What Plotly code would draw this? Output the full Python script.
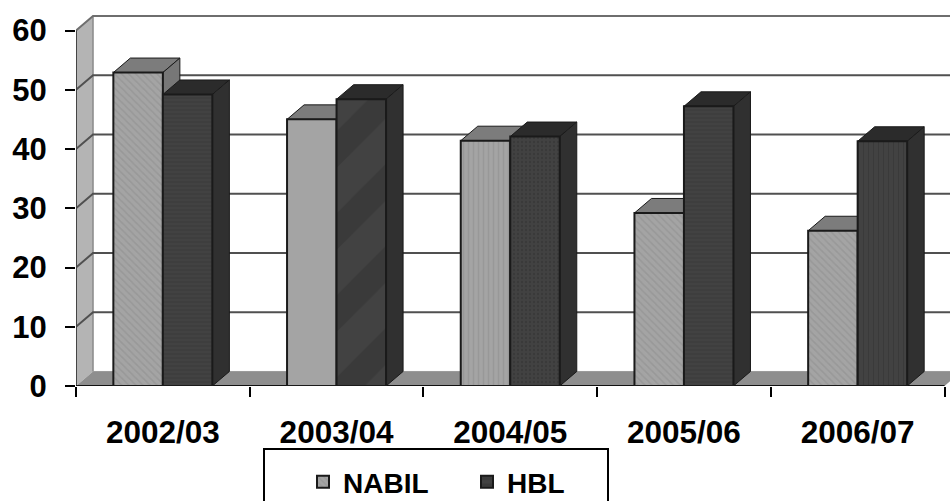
import plotly.graph_objects as go

categories = ["2002/03", "2003/04", "2004/05", "2005/06", "2006/07"]
nabil = [52.9, 45.0, 41.4, 29.2, 26.2]
hbl = [49.2, 48.4, 42.1, 47.2, 41.3]
y_ticks = [0, 10, 20, 30, 40, 50, 60]
nabil_patterns = ["\\", "", "|", "\\", "\\"]
hbl_patterns = ["-", "/", ".", "-", "|"]
hbl_pattern_sizes = [4, 58, 4, 4, 5]
hbl_pattern_solidity = [0.25, 0.45, 0.3, 0.25, 0.25]

FONT = "Liberation Sans"
DX, DY = 0.098, 2.45      # depth of the 3D projection in axis units
W = 0.285                 # bar width in category units
n = len(categories)
centers = [i + 0.5 for i in range(n)]

PLOT_L, PLOT_B, PLOT_R = 76, 386, 950
plot_w, plot_h = PLOT_R - PLOT_L, PLOT_B


def px(X):
    return (X - PLOT_L) / plot_w


def py(Y):
    return (PLOT_B - Y) / plot_h


shapes = []


def poly(pts, fill, line="rgba(0,0,0,0)", lw=0):
    path = "M" + "L".join(f"{x},{y}" for x, y in pts) + "Z"
    shapes.append(dict(type="path", path=path, xref="x", yref="y", layer="below",
                       fillcolor=fill, line=dict(color=line, width=lw)))


def seg(pts, color, lw):
    path = "M" + "L".join(f"{x},{y}" for x, y in pts)
    shapes.append(dict(type="path", path=path, xref="x", yref="y", layer="below",
                       line=dict(color=color, width=lw)))


top = max(y_ticks)
# side wall and floor
poly([(0, 0), (DX, DY), (DX, top + DY), (0, top)], "#b4b4b4")
poly([(0, 0), (n, 0), (n + DX, DY), (DX, DY)], "#8e8e8e")
seg([(DX, DY), (DX, top + DY)], "#8a8a8a", 1.5)
# gridlines across the side and back walls
for v in y_ticks[1:]:
    seg([(0, v), (DX, v + DY), (6, v + DY)], "#505050" if v < top else "#6e6e6e", 2)
seg([(DX, DY), (6, DY)], "#9a9a9a", 1)
seg([(0, 0), (0, top)], "#444444", 2)


def box_3d(x0, x1, v, top_col, side_col):
    poly([(x0, v), (x0 + DX, v + DY), (x1 + DX, v + DY), (x1, v)], top_col, "#1a1a1a", 1)
    poly([(x1, 0), (x1 + DX, DY), (x1 + DX, v + DY), (x1, v)], side_col, "#1a1a1a", 1)


for c, a, b in zip(centers, nabil, hbl):
    box_3d(c - W, c, a, "#7c7c7c", "#777777")
    box_3d(c, c + W, b, "#2b2b2b", "#303030")

seg([(0, 0), (n, 0)], "#111111", 2)

# legend box, open at the foot of the picture
shapes.append(dict(type="rect", xref="paper", yref="paper",
                   x0=px(264), x1=px(608), y0=py(530), y1=py(449),
                   line=dict(color="black", width=2), fillcolor="white", layer="above"))

fig = go.Figure()
fig.add_bar(name="NABIL", x=centers, y=nabil, width=W, offset=-W,
            marker=dict(color="#a4a4a4", line=dict(color="#1a1a1a", width=2),
                        pattern=dict(shape=nabil_patterns, fgcolor="#8c8c8c",
                                     size=5, solidity=0.3)))
fig.add_bar(name="HBL", x=centers, y=hbl, width=W, offset=0,
            marker=dict(color="#424242", line=dict(color="#1a1a1a", width=2),
                        pattern=dict(shape=hbl_patterns, fgcolor="#323232",
                                     size=hbl_pattern_sizes, solidity=hbl_pattern_solidity)))

fig.update_layout(
    width=950, height=501, autosize=False,
    margin=dict(l=PLOT_L, r=0, t=0, b=501 - PLOT_B, pad=0, autoexpand=False),
    paper_bgcolor="white", plot_bgcolor="white",
    barmode="overlay", shapes=shapes, hovermode=False,
    font=dict(family=FONT, size=30, color="black", weight="bold"),
    xaxis=dict(range=[0, plot_w / 173.7], tickmode="array", tickvals=centers, ticktext=categories,
               ticks="", showgrid=False, zeroline=False, showline=False,
               ticklabelstandoff=24,
               tickfont=dict(family=FONT, size=31.5, color="black", weight="bold"),
               minor=dict(tickmode="array", tickvals=list(range(n + 1)), ticks="outside",
                          ticklen=10, tickwidth=2, tickcolor="black", showgrid=False)),
    yaxis=dict(range=[0, plot_h / 5.925], tickmode="array", tickvals=y_ticks,
               ticks="outside", ticklen=10, tickwidth=2, tickcolor="black",
               showgrid=False, zeroline=False, showline=False, ticklabelstandoff=12,
               tickfont=dict(family=FONT, size=31, color="black", weight="bold")),
    showlegend=True,
    legend=dict(orientation="h", x=px(303), xanchor="left", y=py(457), yanchor="top",
                bgcolor="rgba(0,0,0,0)", borderwidth=0,
                entrywidth=119, entrywidthmode="pixels", itemsizing="trace", traceorder="normal",
                font=dict(family=FONT, size=28, color="black", weight="bold")),
)

fig.write_html("out.html", config={"displayModeBar": False},
               post_script="document.body.style.margin='0';document.documentElement.style.overflow='hidden';")
